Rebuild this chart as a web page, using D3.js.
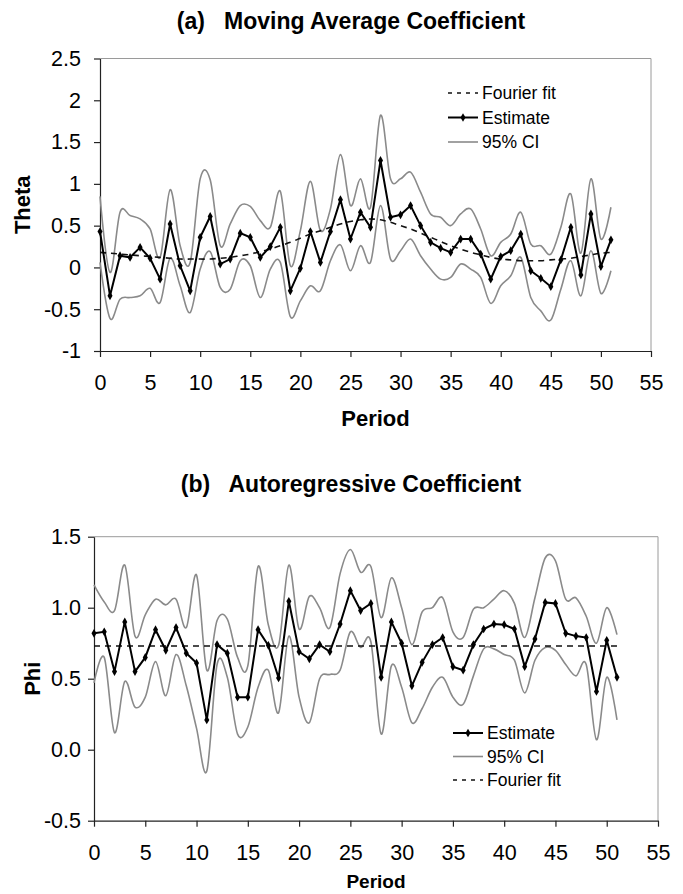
<!DOCTYPE html>
<html>
<head>
<meta charset="utf-8">
<script src="https://cdn.jsdelivr.net/npm/d3@7"></script>
<style>
  body { margin: 0; background: #fff; }
  svg { display: block; font-family: "Liberation Sans", Arial, sans-serif; }
  .panel-title { font-weight: bold; font-size: 23px; }
  .axis-title { font-weight: bold; font-size: 22px; }
  .tick text { font-size: 21.5px; fill: #000; }
  .legend text { font-size: 17.5px; }
</style>
</head>
<body>
<div id="chart"></div>
<script>
// Períodos (eixo x) e ticks
const periods = [0,1,2,3,4,5,6,7,8,9,10,11,12,13,14,15,16,17,18,19,20,21,22,23,24,25,
  26,27,28,29,30,31,32,33,34,35,36,37,38,39,40,41,42,43,44,45,46,47,48,49,50,51];
const xTicks = [0,5,10,15,20,25,30,35,40,45,50,55];

// (a) Moving average coefficient
const thetaTicks = [-1,-0.5,0,0.5,1,1.5,2,2.5];
const thetaEst = [0.43,-0.34,0.14,0.12,0.24,0.11,-0.14,0.52,0.02,-0.28,0.36,0.61,0.04,0.10,0.41,0.36,0.12,0.25,0.48,-0.28,
  -0.01,0.43,0.06,0.43,0.81,0.34,0.66,0.48,1.28,0.60,0.63,0.74,0.50,0.30,0.23,0.18,0.34,0.34,0.16,-0.14,
  0.13,0.20,0.40,-0.04,-0.13,-0.23,0.09,0.48,-0.09,0.64,0.01,0.33];
const thetaUpper = [0.85,-0.06,0.66,0.62,0.58,0.46,0.12,0.93,0.26,0.06,1.06,1.05,0.26,0.52,0.74,0.73,0.56,0.48,0.91,0.02,
  0.44,1.03,0.44,0.70,1.35,0.74,1.06,0.72,1.82,1.06,1.06,1.14,0.90,0.64,0.60,0.50,0.64,0.70,0.46,0.14,
  0.30,0.40,0.66,0.28,0.26,0.16,0.48,0.88,0.17,1.06,0.34,0.72];
const thetaLower = [0.06,-0.61,-0.38,-0.36,-0.34,-0.25,-0.42,0.11,-0.22,-0.54,-0.02,0.19,-0.24,-0.26,0.08,0.02,-0.36,-0.02,0.06,-0.59,
  -0.40,-0.22,-0.28,0.08,0.27,-0.04,0.26,0.06,0.74,0.10,0.20,0.34,0.14,-0.02,-0.14,-0.12,0.04,-0.02,-0.12,-0.43,
  -0.22,-0.10,0.12,-0.36,-0.52,-0.63,-0.26,0.08,-0.34,0.20,-0.31,-0.04];
const thetaFourier = [0.18,0.17,0.16,0.15,0.14,0.13,0.12,0.11,0.10,0.10,0.10,0.10,0.11,0.12,0.14,0.16,0.19,0.22,0.26,0.30,
  0.35,0.40,0.44,0.48,0.52,0.55,0.57,0.58,0.57,0.54,0.50,0.46,0.41,0.36,0.31,0.26,0.22,0.18,0.15,0.12,
  0.10,0.09,0.08,0.08,0.08,0.09,0.10,0.11,0.13,0.15,0.17,0.18];

// (b) Autoregressive coefficient
const phiTicks = [-0.5,0,0.5,1,1.5];
const phiEst = [0.82,0.83,0.55,0.90,0.55,0.65,0.845,0.70,0.86,0.68,0.61,0.21,0.74,0.68,0.37,0.37,0.845,0.735,0.505,1.045,
  0.69,0.64,0.74,0.69,0.885,1.12,0.98,1.03,0.51,0.90,0.75,0.45,0.615,0.74,0.79,0.585,0.56,0.74,0.85,0.885,
  0.88,0.85,0.585,0.78,1.037,1.03,0.82,0.80,0.79,0.41,0.77,0.51];
const phiUpper = [1.16,1.04,0.98,1.30,0.80,0.95,1.06,1.02,1.06,0.86,1.23,0.56,0.91,0.92,0.65,0.59,1.29,0.88,0.735,1.30,
  0.85,1.08,1.00,0.86,1.24,1.41,1.25,1.29,0.93,1.21,1.00,0.74,0.97,1.00,1.07,0.83,0.79,0.99,1.00,1.06,
  1.12,1.03,0.79,1.07,1.35,1.33,1.06,1.07,0.94,0.75,1.00,0.81];
const phiLower = [0.47,0.65,0.12,0.48,0.30,0.37,0.62,0.38,0.67,0.45,0.15,-0.15,0.60,0.51,0.11,0.16,0.44,0.56,0.26,0.80,
  0.37,0.19,0.50,0.53,0.56,0.83,0.72,0.76,0.11,0.59,0.44,0.19,0.29,0.44,0.51,0.37,0.32,0.52,0.71,0.71,
  0.67,0.63,0.40,0.63,0.72,0.70,0.60,0.52,0.60,0.07,0.51,0.21];
const phiFourier = [0.73,0.73,0.73,0.73,0.73,0.73,0.73,0.73,0.73,0.73,0.73,0.73,0.73,0.73,0.73,0.73,0.73,0.73,0.73,0.73,
  0.73,0.73,0.73,0.73,0.73,0.73,0.73,0.73,0.73,0.73,0.73,0.73,0.73,0.73,0.73,0.73,0.73,0.73,0.73,0.73,
  0.73,0.73,0.73,0.73,0.73,0.73,0.73,0.73,0.73,0.73,0.73,0.73];

const width = 683, height = 894;
const svg = d3.select('#chart').append('svg').attr('width', width).attr('height', height);

const fmtA = d => String(d);
const fmtB = d => d3.format('.1f')(d).replace('\u2212', '-');

function createPanel({ left, right, top, bottom, yDomain, yTicks, yFormat, yPad, title, titleY, yLabel, yLabelX, xLabelY, xLabelSize, est, upper, lower, fourier, fourierSmooth, legendX, legendY, legendStep, legendOrder }) {
  const x = d3.scaleLinear().domain([0, 55]).range([left, right]);
  const y = d3.scaleLinear().domain(yDomain).range([bottom, top]);
  const g = svg.append('g');

  // cadre gris (haut + droite)
  g.append('path')
    .attr('d', `M${left},${top}H${right}V${bottom}`)
    .attr('fill', 'none').attr('stroke', '#9a9a9a').attr('stroke-width', 1);

  const xAxis = g.append('g').attr('transform', `translate(0,${bottom})`)
    .call(d3.axisBottom(x).tickValues(xTicks).tickSize(6).tickSizeOuter(0).tickPadding(18));
  const yAxis = g.append('g').attr('transform', `translate(${left},0)`)
    .call(d3.axisLeft(y).tickValues(yTicks).tickFormat(yFormat).tickSize(6).tickSizeOuter(0).tickPadding(yPad));
  [xAxis, yAxis].forEach(a => {
    a.selectAll('path, line').attr('stroke', '#222').attr('stroke-width', 1.2);
    a.selectAll('text').attr('font-family', '"Liberation Sans", Arial, sans-serif');
  });

  g.append('text').attr('class', 'panel-title').attr('x', 351).attr('y', titleY)
    .attr('text-anchor', 'middle').attr('xml:space', 'preserve').text(title);
  g.append('text').attr('class', 'axis-title').attr('x', (left + right) / 2).attr('y', xLabelY)
    .style('font-size', xLabelSize + 'px')
    .attr('text-anchor', 'middle').text('Period');
  g.append('text').attr('class', 'axis-title')
    .attr('transform', `translate(${yLabelX},${(top + bottom) / 2}) rotate(-90)`)
    .attr('text-anchor', 'middle').text(yLabel);

  const smooth = d3.line().x((d, i) => x(periods[i])).y(d => y(d)).curve(d3.curveCardinal.tension(0));
  const straight = d3.line().x((d, i) => x(periods[i])).y(d => y(d));

  [upper, lower].forEach(s => {
    g.append('path').attr('d', smooth(s)).attr('fill', 'none')
      .attr('stroke', '#8a8a8a').attr('stroke-width', 1.6);
  });
  g.append('path').attr('d', (fourierSmooth ? smooth : straight)(fourier)).attr('fill', 'none')
    .attr('stroke', '#111').attr('stroke-width', 1.6).attr('stroke-dasharray', '6,5');
  g.append('path').attr('d', straight(est)).attr('fill', 'none')
    .attr('stroke', '#000').attr('stroke-width', 2);
  const diamond = d3.symbol(d3.symbolDiamond).size(22);
  g.selectAll('.marker').data(est).enter().append('path')
    .attr('class', 'marker')
    .attr('transform', (d, i) => `translate(${x(periods[i])},${y(d)})`)
    .attr('d', diamond).attr('fill', '#000');

  // légende
  const lg = g.append('g').attr('class', 'legend');
  legendOrder.forEach((key, i) => {
    const cy = legendY + i * legendStep;
    const row = lg.append('g');
    const line = row.append('line').attr('x1', legendX).attr('x2', legendX + 30)
      .attr('y1', cy).attr('y2', cy).attr('fill', 'none');
    if (key === 'Estimate') {
      line.attr('stroke', '#000').attr('stroke-width', 2);
      row.append('path').attr('transform', `translate(${legendX + 15},${cy})`).attr('d', diamond).attr('fill', '#000');
    } else if (key === '95% CI') {
      line.attr('stroke', '#8a8a8a').attr('stroke-width', 1.6);
    } else {
      line.attr('stroke', '#111').attr('stroke-width', 1.6).attr('stroke-dasharray', '4,5');
    }
    row.append('text').attr('x', legendX + 34).attr('y', cy).attr('dy', '0.35em').text(key);
  });
}

createPanel({
  left: 100, right: 651, top: 58.5, bottom: 351,
  yDomain: [-1, 2.5], yTicks: thetaTicks, yFormat: fmtA, yPad: 13,
  title: '(a)   Moving Average Coefficient', titleY: 29,
  yLabel: 'Theta', yLabelX: 30, xLabelY: 426, xLabelSize: 22,
  est: thetaEst, upper: thetaUpper, lower: thetaLower, fourier: thetaFourier, fourierSmooth: true,
  legendX: 448, legendY: 93, legendStep: 24.5, legendOrder: ['Fourier fit', 'Estimate', '95% CI']
});

createPanel({
  left: 94, right: 658, top: 536.7, bottom: 820.7,
  yDomain: [-0.5, 1.5], yTicks: phiTicks, yFormat: fmtB, yPad: 7,
  title: '(b)   Autoregressive Coefficient', titleY: 492,
  yLabel: 'Phi', yLabelX: 40, xLabelY: 888, xLabelSize: 19,
  est: phiEst, upper: phiUpper, lower: phiLower, fourier: phiFourier, fourierSmooth: false,
  legendX: 453, legendY: 733, legendStep: 23.5, legendOrder: ['Estimate', '95% CI', 'Fourier fit']
});
</script>
</body>
</html>
